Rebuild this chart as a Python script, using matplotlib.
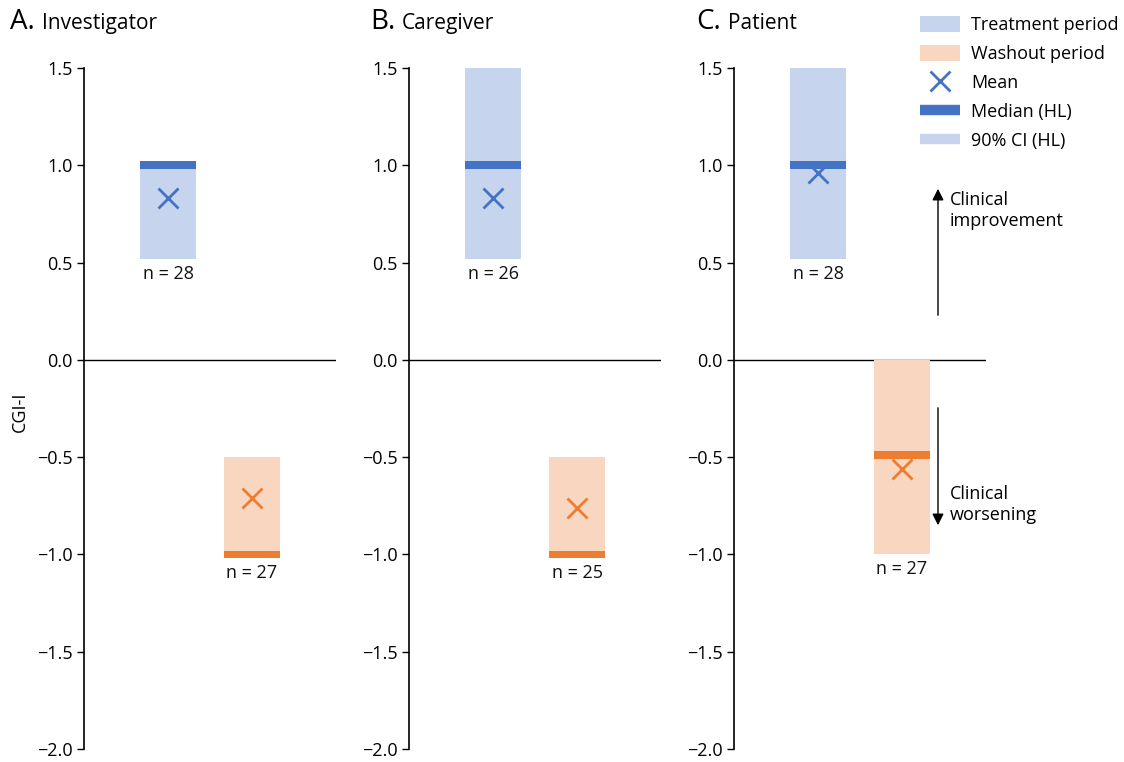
import matplotlib
matplotlib.use("Agg")
import matplotlib.pyplot as plt
from matplotlib.patches import Patch, FancyArrowPatch
from matplotlib.lines import Line2D

plt.rcParams['font.family'] = ['Open Sans', 'DejaVu Sans']

# ---- data ----
letters = ["A.", "B.", "C."]
panels = ["Investigator", "Caregiver", "Patient"]
treat_ci_low = [0.52, 0.52, 0.52]
treat_ci_high = [1.0, 1.5, 1.5]
treat_median = [1.0, 1.0, 1.0]
treat_mean = [0.83, 0.83, 0.96]
treat_n = [28, 26, 28]
wash_ci_low = [-1.0, -1.0, -1.0]
wash_ci_high = [-0.5, -0.5, 0.0]
wash_median = [-1.0, -1.0, -0.49]
wash_mean = [-0.71, -0.76, -0.56]
wash_n = [27, 25, 27]
yticks = [1.5, 1.0, 0.5, 0.0, -0.5, -1.0, -1.5, -2.0]

BLUE = "#4472C4"
LBLUE = "#C7D4EE"
ORANGE = "#ED7D31"
LORANGE = "#F9D6C0"

W, H = 1124, 762
fig = plt.figure(figsize=(W / 100, H / 100), dpi=100)

ax_left_px = [84, 409, 734]
title_px = [10, 370, 696]
ax_w_px = 252
ax_top_px, ax_bot_px = 68, 749

bar_w = 0.667
med_h = 0.04
for i in range(3):
    ax = fig.add_axes([ax_left_px[i] / W, 1 - ax_bot_px / H, ax_w_px / W,
                       (ax_bot_px - ax_top_px) / H])
    ax.set_xlim(0, 3)
    ax.set_ylim(-2.0, 1.5)
    ax.axhline(0, color="black", lw=1)
    groups = [
        (1, treat_ci_low[i], treat_ci_high[i], treat_median[i], treat_mean[i], treat_n[i], LBLUE, BLUE),
        (2, wash_ci_low[i], wash_ci_high[i], wash_median[i], wash_mean[i], wash_n[i], LORANGE, ORANGE),
    ]
    for x, lo, hi, med, mean, n, lc, dc in groups:
        ax.bar(x, hi - lo, bottom=lo, width=bar_w, color=lc, zorder=2)
        ax.bar(x, med_h, bottom=med - med_h / 2, width=bar_w, color=dc, zorder=3)
        ax.plot(x, mean, marker="x", ms=15, mew=2, color=dc, zorder=4, ls="none")
        ax.text(x, min(lo, med - med_h / 2) - 0.03, f"n = {n}", ha="center", va="top",
                fontsize=13, color="#111111")
    for s in ["top", "right", "bottom"]:
        ax.spines[s].set_visible(False)
    ax.spines["left"].set_linewidth(1.2)
    ax.set_xticks([])
    ax.set_yticks(yticks)
    ax.set_yticklabels([f"{t:.1f}".replace("-", "\u2212") for t in yticks])
    ax.tick_params(axis="y", length=5, width=1, labelsize=13, pad=3)
    fig.text(title_px[i] / W, 1 - 29 / H, letters[i], fontsize=20, va="baseline", ha="left")
    fig.text((title_px[i] + 32) / W, 1 - 29 / H, panels[i], fontsize=15, va="baseline", ha="left")

fig.text(20 / W, 1 - 412 / H, "CGI-I", rotation=90, fontsize=13, ha="center", va="center")

handles = [
    Patch(facecolor=LBLUE, edgecolor="none"),
    Patch(facecolor=LORANGE, edgecolor="none"),
    Line2D([], [], marker="x", ms=14, mew=2, color=BLUE, ls="none"),
    Line2D([], [], color=BLUE, lw=7.5, solid_capstyle="butt"),
    Line2D([], [], color=LBLUE, lw=7.5, solid_capstyle="butt"),
]
labels = ["Treatment period", "Washout period", "Mean", "Median (HL)", "90% CI (HL)"]
fig.legend(handles, labels, loc="upper left", bbox_to_anchor=(915 / W, 1 - 11 / H),
           frameon=False, fontsize=13, handlelength=2.2, handleheight=0.95,
           labelspacing=0.6, handletextpad=0.6, borderaxespad=0, borderpad=0.3)

fig.add_artist(FancyArrowPatch(
    (938 / W, 1 - 318 / H), (938 / W, 1 - 186 / H), transform=fig.transFigure,
    arrowstyle="-|>", mutation_scale=17, lw=1, color="black"))
fig.add_artist(FancyArrowPatch(
    (938 / W, 1 - 405 / H), (938 / W, 1 - 528 / H), transform=fig.transFigure,
    arrowstyle="-|>", mutation_scale=17, lw=1, color="black"))
fig.text(950 / W, 1 - 191 / H, "Clinical\nimprovement", fontsize=13, va="top", ha="left",
         linespacing=1.25)
fig.text(950 / W, 1 - 485 / H, "Clinical\nworsening", fontsize=13, va="top", ha="left",
         linespacing=1.25)

fig.savefig("out.png", dpi=100)
